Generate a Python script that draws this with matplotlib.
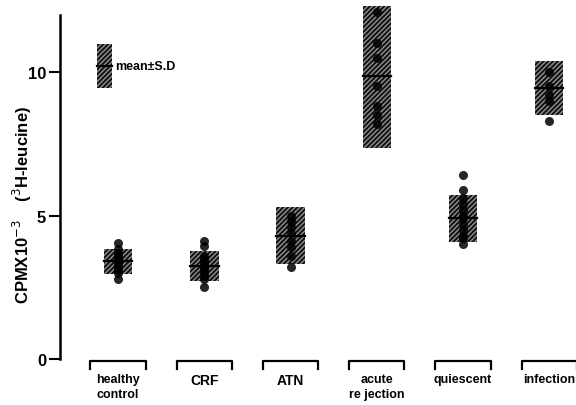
import matplotlib
matplotlib.use("Agg")
import matplotlib.pyplot as plt
from matplotlib.patches import Rectangle

plt.rcParams['font.family'] = ['Liberation Sans', 'DejaVu Sans']
plt.rcParams['hatch.linewidth'] = 1.4

# groups and summary values (mean, SD)
groups = ['healthy\ncontrol', 'CRF', 'ATN', 'acute\nre jection', 'quiescent', 'infection']
means = [3.4, 3.25, 4.3, 9.85, 4.9, 9.45]
sds = [0.44, 0.52, 1.0, 2.5, 0.82, 0.95]

# individual samples
points = [
    [4.05, 3.85, 3.7, 3.6, 3.5, 3.45, 3.4, 3.3, 3.2, 3.1, 3.0, 2.8],
    [4.1, 3.95, 3.6, 3.5, 3.4, 3.3, 3.2, 3.1, 3.0, 2.9, 2.8, 2.5],
    [5.0, 4.8, 4.6, 4.4, 4.1, 3.9, 3.6, 3.2],
    [12.1, 11.0, 10.5, 9.5, 8.8, 8.5, 8.2],
    [6.4, 5.9, 5.6, 5.4, 5.2, 5.0, 4.9, 4.7, 4.5, 4.3, 4.2, 4.0],
    [10.0, 9.5, 9.2, 9.0, 8.3],
]

legend_mean = 10.2
legend_sd = 0.76

fig = plt.figure(figsize=(5.76, 4.06), dpi=100)
ax = fig.add_axes([60 / 576, 46 / 406, 516 / 576, 353 / 406])
ax.set_xlim(-0.673, 5.31)
ax.set_ylim(0, 12.3)

box_w = 0.33
hatch_face = '#909090'
for i, (m, s) in enumerate(zip(means, sds)):
    ax.add_patch(Rectangle((i - box_w / 2, m - s), box_w, 2 * s, facecolor=hatch_face,
                           edgecolor='#111111', hatch='///////', linewidth=0, zorder=2))
    ax.plot([i] * len(points[i]), points[i], 'o', color='black', markersize=6.5,
            alpha=0.85, markeredgewidth=0, zorder=3)
    ax.plot([i - box_w / 2, i + box_w / 2], [m, m], color='black', lw=1.6, zorder=4)

    # bracket under each group
    bx = [i - 0.32, i - 0.32, i + 0.32, i + 0.32]
    by = [-0.35, -0.07, -0.07, -0.35]
    ax.plot(bx, by, color='black', lw=1.6, clip_on=False)
    size = 10 if groups[i] in ('CRF', 'ATN') else 9
    ax.text(i, -0.5, groups[i], ha='center', va='top', fontsize=size,
            fontweight='bold', linespacing=1.35, clip_on=False)

# legend box
lx0, lx1 = -0.245, -0.07
ax.add_patch(Rectangle((lx0, legend_mean - legend_sd), lx1 - lx0, 2 * legend_sd,
                       facecolor=hatch_face, edgecolor='#111111', hatch='///////',
                       linewidth=0, zorder=2))
ax.plot([lx0, lx1], [legend_mean, legend_mean], color='black', lw=1.6, zorder=4)
ax.text(-0.03, legend_mean, 'mean±S.D', va='center', ha='left', fontsize=9, fontweight='bold')

for sp in ['top', 'right', 'bottom']:
    ax.spines[sp].set_visible(False)
ax.spines['left'].set_linewidth(1.8)
ax.spines['left'].set_bounds(0, 12.0)
ax.set_xticks([])
ax.set_yticks([0, 5, 10])
ax.tick_params(axis='y', length=8, width=1.5, labelsize=12, pad=2)
for t in ax.get_yticklabels():
    t.set_fontweight('bold')
fig.text(22 / 576, 1 - 205 / 406, 'CPMX10$^{-3}$    ($^{3}$H-leucine)', rotation=90,
         ha='center', va='center', fontsize=12, fontweight='bold')

fig.savefig('out.png', dpi=100)
